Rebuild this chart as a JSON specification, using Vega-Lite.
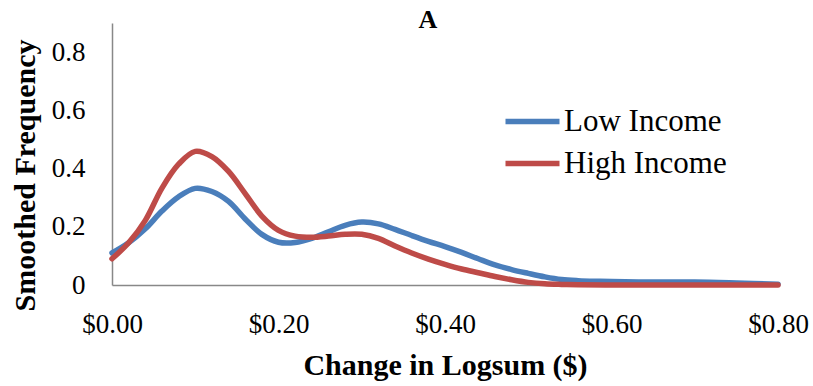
{
  "$schema": "https://vega.github.io/schema/vega-lite/v6.json",
  "autosize": {"type": "none"},
  "padding": {"left": 112, "top": 23, "right": 35, "bottom": 101},
  "width": 666,
  "height": 262,
  "background": "white",
  "title": {"text": "A", "font": "Liberation Serif", "fontSize": 26, "fontWeight": "bold", "color": "black", "anchor": "middle", "frame": "group", "baseline": "alphabetic", "offset": -5, "dx": -17, "dy": 26},
  "config": {
    "view": {"stroke": null},
    "font": "Liberation Serif",
    "style": {"guide-label": {"font": "Liberation Serif"}, "guide-title": {"font": "Liberation Serif"}},
    "legend": {"labelFont": "Liberation Serif", "labelFontSize": 31, "labelColor": "black", "labelLimit": 400}
  },
  "data": {"values": [
    {"x": 0.00, "y": 0.110, "s": "Low Income"},
    {"x": 0.02, "y": 0.145, "s": "Low Income"},
    {"x": 0.04, "y": 0.193, "s": "Low Income"},
    {"x": 0.06, "y": 0.254, "s": "Low Income"},
    {"x": 0.08, "y": 0.303, "s": "Low Income"},
    {"x": 0.10, "y": 0.332, "s": "Low Income"},
    {"x": 0.12, "y": 0.321, "s": "Low Income"},
    {"x": 0.14, "y": 0.287, "s": "Low Income"},
    {"x": 0.16, "y": 0.227, "s": "Low Income"},
    {"x": 0.18, "y": 0.174, "s": "Low Income"},
    {"x": 0.20, "y": 0.147, "s": "Low Income"},
    {"x": 0.22, "y": 0.146, "s": "Low Income"},
    {"x": 0.24, "y": 0.160, "s": "Low Income"},
    {"x": 0.26, "y": 0.183, "s": "Low Income"},
    {"x": 0.28, "y": 0.205, "s": "Low Income"},
    {"x": 0.30, "y": 0.216, "s": "Low Income"},
    {"x": 0.32, "y": 0.210, "s": "Low Income"},
    {"x": 0.34, "y": 0.191, "s": "Low Income"},
    {"x": 0.36, "y": 0.170, "s": "Low Income"},
    {"x": 0.38, "y": 0.150, "s": "Low Income"},
    {"x": 0.40, "y": 0.132, "s": "Low Income"},
    {"x": 0.42, "y": 0.112, "s": "Low Income"},
    {"x": 0.44, "y": 0.090, "s": "Low Income"},
    {"x": 0.46, "y": 0.069, "s": "Low Income"},
    {"x": 0.48, "y": 0.053, "s": "Low Income"},
    {"x": 0.50, "y": 0.040, "s": "Low Income"},
    {"x": 0.52, "y": 0.028, "s": "Low Income"},
    {"x": 0.54, "y": 0.019, "s": "Low Income"},
    {"x": 0.56, "y": 0.015, "s": "Low Income"},
    {"x": 0.58, "y": 0.013, "s": "Low Income"},
    {"x": 0.60, "y": 0.012, "s": "Low Income"},
    {"x": 0.65, "y": 0.010, "s": "Low Income"},
    {"x": 0.70, "y": 0.010, "s": "Low Income"},
    {"x": 0.75, "y": 0.007, "s": "Low Income"},
    {"x": 0.80, "y": 0.003, "s": "Low Income"},
    {"x": 0.00, "y": 0.090, "s": "High Income"},
    {"x": 0.02, "y": 0.145, "s": "High Income"},
    {"x": 0.04, "y": 0.222, "s": "High Income"},
    {"x": 0.06, "y": 0.333, "s": "High Income"},
    {"x": 0.08, "y": 0.415, "s": "High Income"},
    {"x": 0.10, "y": 0.459, "s": "High Income"},
    {"x": 0.12, "y": 0.441, "s": "High Income"},
    {"x": 0.14, "y": 0.390, "s": "High Income"},
    {"x": 0.16, "y": 0.314, "s": "High Income"},
    {"x": 0.18, "y": 0.237, "s": "High Income"},
    {"x": 0.20, "y": 0.188, "s": "High Income"},
    {"x": 0.22, "y": 0.168, "s": "High Income"},
    {"x": 0.24, "y": 0.164, "s": "High Income"},
    {"x": 0.26, "y": 0.168, "s": "High Income"},
    {"x": 0.28, "y": 0.174, "s": "High Income"},
    {"x": 0.30, "y": 0.174, "s": "High Income"},
    {"x": 0.32, "y": 0.160, "s": "High Income"},
    {"x": 0.34, "y": 0.134, "s": "High Income"},
    {"x": 0.36, "y": 0.110, "s": "High Income"},
    {"x": 0.38, "y": 0.089, "s": "High Income"},
    {"x": 0.40, "y": 0.071, "s": "High Income"},
    {"x": 0.42, "y": 0.055, "s": "High Income"},
    {"x": 0.44, "y": 0.042, "s": "High Income"},
    {"x": 0.46, "y": 0.029, "s": "High Income"},
    {"x": 0.48, "y": 0.018, "s": "High Income"},
    {"x": 0.50, "y": 0.009, "s": "High Income"},
    {"x": 0.52, "y": 0.004, "s": "High Income"},
    {"x": 0.54, "y": 0.002, "s": "High Income"},
    {"x": 0.56, "y": 0.001, "s": "High Income"},
    {"x": 0.60, "y": 0.000, "s": "High Income"},
    {"x": 0.65, "y": 0.000, "s": "High Income"},
    {"x": 0.70, "y": 0.000, "s": "High Income"},
    {"x": 0.75, "y": 0.000, "s": "High Income"},
    {"x": 0.80, "y": 0.000, "s": "High Income"}
  ]},
  "mark": {"type": "line", "interpolate": "catmull-rom", "strokeWidth": 5.5, "strokeCap": "round", "clip": false},
  "encoding": {
    "x": {
      "field": "x", "type": "quantitative",
      "scale": {"domain": [0, 0.8], "nice": false, "zero": false},
      "axis": {
        "title": "Change in Logsum ($)",
        "values": [0, 0.2, 0.4, 0.6, 0.8],
        "format": "$.2f",
        "grid": false, "ticks": false, "tickSize": 0,
        "domainColor": "#888888", "domainWidth": 1.5,
        "labelFont": "Liberation Serif", "labelFontSize": 27, "labelColor": "black",
        "labelBaseline": "middle", "labelPadding": 39, "labelFlush": false, "labelOverlap": false,
        "titleFont": "Liberation Serif", "titleFontSize": 30, "titleFontWeight": "bold", "titleColor": "black",
        "titleBaseline": "middle", "titleY": 80, "titleX": 333, "titleAlign": "center"
      }
    },
    "y": {
      "field": "y", "type": "quantitative",
      "scale": {"domain": [0, 0.9], "nice": false},
      "axis": {
        "title": "Smoothed Frequency",
        "values": [0, 0.2, 0.4, 0.6, 0.8],
        "labelExpr": "datum.value == 0 ? '0' : format(datum.value, '.1f')",
        "grid": false, "ticks": false, "tickSize": 0,
        "domainColor": "#888888", "domainWidth": 1.5,
        "labelFont": "Liberation Serif", "labelFontSize": 27, "labelColor": "black",
        "labelPadding": 27, "labelFlush": false, "labelOverlap": false,
        "titleFont": "Liberation Serif", "titleFontSize": 30, "titleFontWeight": "bold", "titleColor": "black",
        "titleAngle": 270, "titleAlign": "center", "titleBaseline": "middle", "titleX": -87, "titleY": 152
      }
    },
    "color": {
      "field": "s", "type": "nominal",
      "scale": {"domain": ["Low Income", "High Income"], "range": ["#4a7ebb", "#be4b48"]},
      "legend": {
        "title": null, "orient": "none", "legendX": 404, "legendY": 82,
        "symbolType": "M-2,0H2", "symbolSize": 729, "symbolStrokeWidth": 5.5,
        "labelFont": "Liberation Serif", "labelFontSize": 31, "labelColor": "black", "labelLimit": 400,
        "labelOffset": 15, "rowPadding": 10, "padding": 0
      }
    }
  }
}
